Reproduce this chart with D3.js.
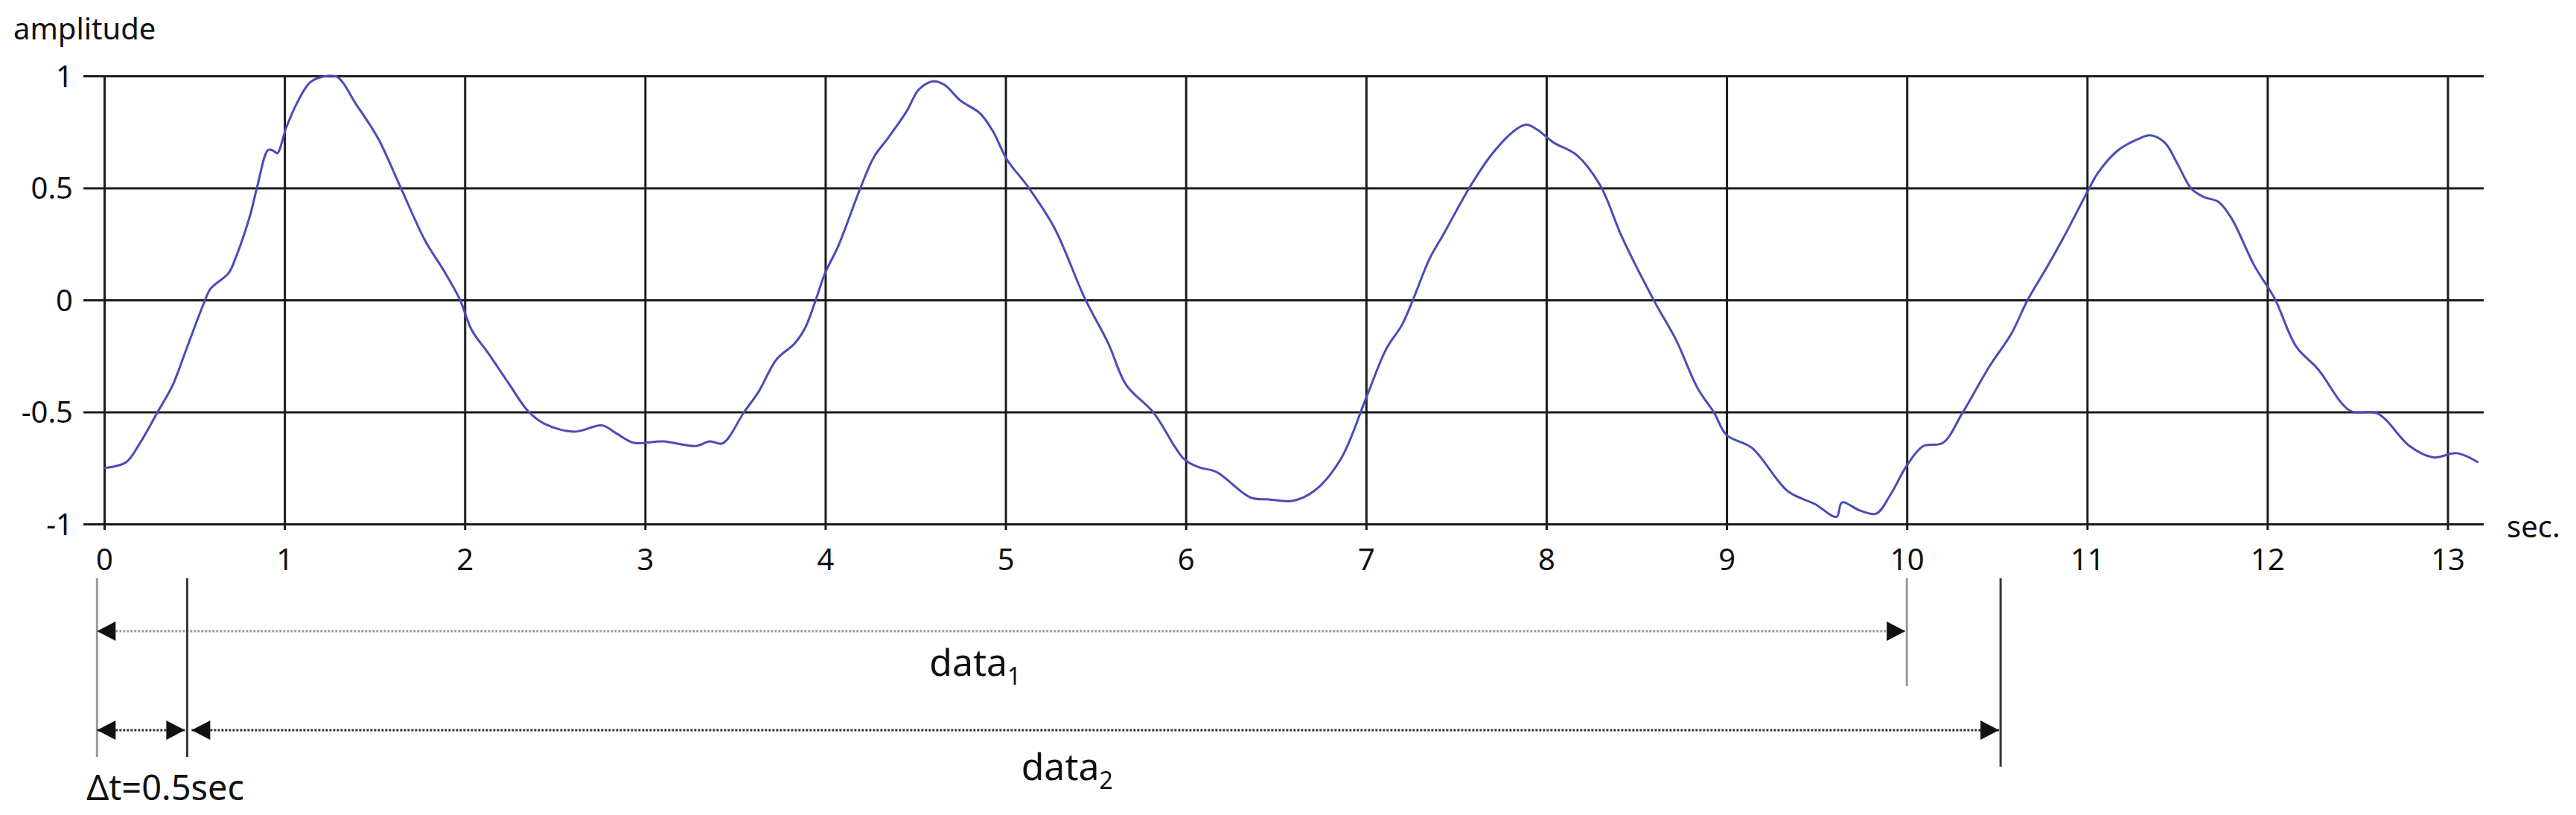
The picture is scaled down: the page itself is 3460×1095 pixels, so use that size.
<html lang="en">
<head>
    <title>Amplitude over time</title>
    <meta charset="utf-8">
    <style>
        body {
            margin: 0;
            background: white;
        }

        text {
            font-family: "Noto Sans", "Open Sans", sans-serif;
            fill: #111;
        }

        .grid line {
            stroke: #1c1c1c;
            stroke-width: 3;
        }

        .signal {
            fill: none;
            stroke: #4b4bb8;
            stroke-width: 3;
        }
    </style>
</head>
<body>
<svg id="chart" width="3460" height="1095"></svg>
<script src="https://d3js.org/d3.v7.min.js"></script>
<script>
    // signal (seconds, amplitude)
    const timeSec = [
        0.00, 0.12, 0.19, 0.30, 0.38, 0.46, 0.55, 0.59, 0.69, 0.73, 0.81, 0.85, 0.91, 0.94, 0.96,
        1.01, 1.07, 1.14, 1.21, 1.29, 1.40, 1.52, 1.64, 1.78, 1.88, 1.97, 2.04, 2.13, 2.25, 2.35,
        2.44, 2.61, 2.76, 2.84, 2.94, 3.10, 3.28, 3.36, 3.43, 3.55, 3.63, 3.73, 3.83, 3.89, 3.95,
        4.00, 4.07, 4.20, 4.27, 4.35, 4.45, 4.52, 4.60, 4.66, 4.75, 4.86, 4.93, 5.01, 5.12, 5.27,
        5.44, 5.57, 5.67, 5.82, 5.99, 6.07, 6.17, 6.36, 6.46, 6.59, 6.71, 6.86, 7.00, 7.11, 7.20,
        7.26, 7.35, 7.43, 7.58, 7.70, 7.83, 7.89, 7.95, 8.04, 8.17, 8.30, 8.42, 8.60, 8.72, 8.84,
        8.93, 9.00, 9.14, 9.34, 9.49, 9.61, 9.64, 9.74, 9.83, 9.91, 10.00, 10.09, 10.20, 10.31, 10.46,
        10.58, 10.67, 10.78, 10.87, 11.00, 11.06, 11.17, 11.28, 11.35, 11.43, 11.50, 11.58, 11.65, 11.73, 11.80,
        11.93, 12.04, 12.16, 12.28, 12.46, 12.61, 12.79, 12.92, 13.05, 13.17
    ];
    const amplitude = [
        -0.75, -0.725, -0.65, -0.495, -0.38, -0.21, -0.02, 0.05, 0.12, 0.19, 0.38, 0.51, 0.67, 0.665, 0.655,
        0.77, 0.88, 0.97, 0.996, 0.996, 0.87, 0.72, 0.51, 0.265, 0.136, 0.007, -0.136, -0.237, -0.38, -0.495,
        -0.552, -0.588, -0.56, -0.595, -0.638, -0.631, -0.652, -0.631, -0.64, -0.5, -0.41, -0.265, -0.194, -0.122, 0.007,
        0.122, 0.237, 0.51, 0.638, 0.725, 0.84, 0.94, 0.976, 0.961, 0.89, 0.832, 0.753, 0.624, 0.51, 0.323,
        0.007, -0.194, -0.38, -0.502, -0.71, -0.746, -0.768, -0.882, -0.89, -0.897, -0.854, -0.71, -0.438, -0.222, -0.11,
        0.0, 0.18, 0.294, 0.51, 0.653, 0.76, 0.782, 0.76, 0.703, 0.646, 0.51, 0.28, -0.007, -0.179, -0.395,
        -0.502, -0.603, -0.66, -0.854, -0.911, -0.968, -0.904, -0.94, -0.954, -0.868, -0.739, -0.653, -0.638, -0.502, -0.294,
        -0.15, 0.0, 0.15, 0.28, 0.48, 0.567, 0.667, 0.717, 0.735, 0.703, 0.61, 0.495, 0.459, 0.437, 0.366,
        0.15, 0.007, -0.208, -0.308, -0.495, -0.506, -0.653, -0.703, -0.684, -0.725
    ];

    const xTicks = d3.range(0, 14);
    const yTicks = [-1, -0.5, 0, 0.5, 1];
    const yTickLabels = ["-1", "-0.5", "0", "0.5", "1"];

    // window annotations below the axis (seconds)
    const spanNames = ["data", "data"];
    const spanSubs = ["1", "2"];
    const spanStart = [-0.04, 0.46];
    const spanEnd = [10.0, 10.52];
    const deltaStart = -0.04;
    const deltaEnd = 0.46;
    const deltaText = "\u0394t=0.5sec";

    const svg = d3.select("#chart");
    const plotLeft = 140, plotRight = 3336, plotTop = 102, plotBottom = 704;
    const fontSize = 40;

    const x = d3.scaleLinear().domain([0, 13.2]).range([plotLeft, plotRight]);
    const y = d3.scaleLinear().domain([-1, 1]).range([plotBottom, plotTop]);

    // horizontal grid + y labels
    const yAxis = svg.append("g").attr("class", "grid")
        .attr("transform", `translate(${plotLeft - 28},0)`)
        .call(d3.axisLeft(y).tickValues(yTicks).tickSize(-(plotRight - plotLeft + 28))
            .tickPadding(12).tickFormat((d, i) => yTickLabels[i]));
    yAxis.select(".domain").remove();
    yAxis.selectAll("text").attr("font-size", fontSize).attr("x", -14).attr("dy", "0.35em");

    // vertical grid + x labels
    const xAxis = svg.append("g").attr("class", "grid")
        .attr("transform", `translate(0,${plotBottom + 8})`)
        .call(d3.axisBottom(x).tickValues(xTicks).tickSize(-(plotBottom - plotTop + 8)).tickFormat(d3.format("d")));
    xAxis.select(".domain").remove();
    xAxis.selectAll("text").attr("font-size", fontSize).attr("y", 26).attr("dy", "0.71em");

    svg.append("text").attr("x", 18).attr("y", 53).attr("font-size", fontSize).text("amplitude");
    svg.append("text").attr("x", 3367).attr("y", 722).attr("font-size", fontSize).text("sec.");

    // signal
    const line = d3.line()
        .x(i => x(timeSec[i]))
        .y(i => y(amplitude[i]))
        .curve(d3.curveCatmullRom.alpha(0.5));

    svg.append("path")
        .datum(d3.range(timeSec.length))
        .attr("class", "signal")
        .attr("d", line);

    // arrowheads
    const defs = svg.append("defs");
    [["tipEnd", "M-25,-13L0,0L-25,13Z"], ["tipStart", "M25,-13L0,0L25,13Z"]].forEach(([id, d]) =>
    {
        defs.append("marker").attr("id", id)
            .attr("viewBox", "-30 -15 60 30")
            .attr("refX", 0).attr("refY", 0)
            .attr("markerWidth", 60).attr("markerHeight", 30)
            .attr("markerUnits", "userSpaceOnUse")
            .attr("orient", "auto")
            .append("path").attr("d", d).attr("fill", "#111");
    });

    const ann = svg.append("g").attr("class", "annotations");
    const rowY = [848, 981];
    const tickTop = 777;
    const tickBottom = [[1017, 922], [1017, 1030]];
    const rowColor = ["#9a9a9a", "#333"];

    spanStart.forEach((s, i) =>
    {
        // end marks
        ann.append("line")
            .attr("x1", x(s)).attr("x2", x(s))
            .attr("y1", tickTop).attr("y2", tickBottom[i][0])
            .attr("stroke", rowColor[i]).attr("stroke-width", 3);
        ann.append("line")
            .attr("x1", x(spanEnd[i])).attr("x2", x(spanEnd[i]))
            .attr("y1", tickTop).attr("y2", tickBottom[i][1])
            .attr("stroke", rowColor[i]).attr("stroke-width", 3);

        const pad = i === 0 ? 0 : 6;
        ann.append("line")
            .attr("x1", x(s) + pad).attr("x2", x(spanEnd[i]) - 2)
            .attr("y1", rowY[i]).attr("y2", rowY[i])
            .attr("stroke", rowColor[i]).attr("stroke-width", 3)
            .attr("stroke-dasharray", "3 2")
            .attr("marker-start", "url(#tipStart)")
            .attr("marker-end", "url(#tipEnd)");

        const label = ann.append("text")
            .attr("x", (x(s) + x(spanEnd[i])) / 2 - 36)
            .attr("y", rowY[i] + (i === 0 ? 60 : 67))
            .attr("font-size", 50)
            .attr("text-anchor", "middle");
        label.append("tspan").text(spanNames[i]);
        label.append("tspan").attr("font-size", 32).attr("dy", 12).text(spanSubs[i]);
    });

    // delta t arrow
    ann.append("line")
        .attr("x1", x(deltaStart)).attr("x2", x(deltaEnd) - 3)
        .attr("y1", rowY[1]).attr("y2", rowY[1])
        .attr("stroke", "#333").attr("stroke-width", 3)
        .attr("stroke-dasharray", "3 2")
        .attr("marker-start", "url(#tipStart)")
        .attr("marker-end", "url(#tipEnd)");

    ann.append("text")
        .attr("x", x(deltaStart) - 14).attr("y", 1075)
        .attr("font-size", 47)
        .text(deltaText);
</script>
</body>
</html>
